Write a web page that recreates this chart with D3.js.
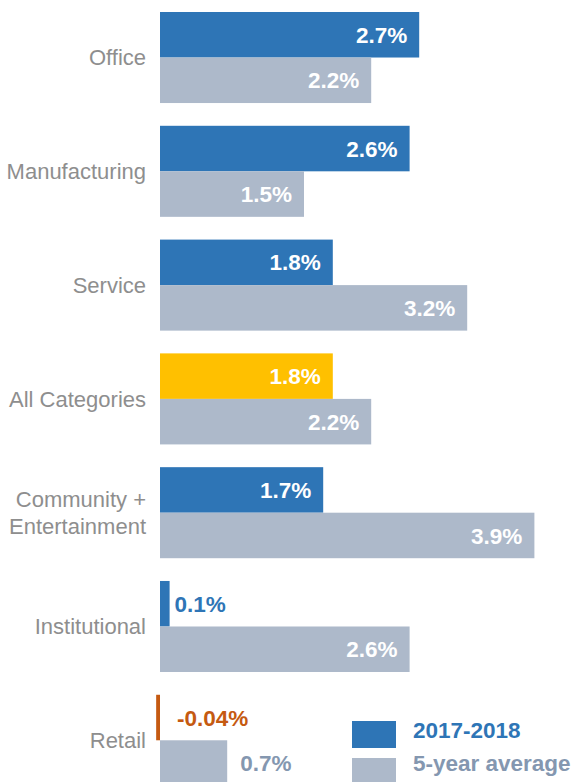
<!DOCTYPE html>
<html>
<head>
<meta charset="utf-8">
<script src="https://cdn.jsdelivr.net/npm/d3@7"></script>
<style>
  html, body { margin: 0; padding: 0; background: #fff; }
  svg { display: block; font-family: "Liberation Sans", Arial, sans-serif; }
</style>
</head>
<body>
<svg id="chart" width="575" height="782"></svg>
<script>
// Annual growth by building category, percent
const categories = ["Office", "Manufacturing", "Service", "All Categories", "Community + Entertainment", "Institutional", "Retail"];
const categoryLines = [["Office"], ["Manufacturing"], ["Service"], ["All Categories"], ["Community +", "Entertainment"], ["Institutional"], ["Retail"]];
const current = [2.7, 2.6, 1.8, 1.8, 1.7, 0.1, -0.04];     // 2017-2018
const fiveYear = [2.2, 1.5, 3.2, 2.2, 3.9, 2.6, 0.7];       // 5-year average
const seriesNames = ["2017-2018", "5-year average"];

const BLUE = "#2E75B6", GREY = "#ADB9CA", GOLD = "#FFC000", ORANGE = "#C55A11", GREY_TEXT = "#8497B0";

const svg = d3.select("#chart");

const x = d3.scaleLinear().domain([0, 4]).range([160, 544]);

const y = d3.scaleBand()
  .domain(categories)
  .range([12, 785.8])
  .paddingInner(0.2)
  .paddingOuter(0);

const sub = d3.scaleBand()
  .domain([0, 1])
  .range([0, y.bandwidth()]);

const rows = categories.map((c, i) => ({ cat: c, i, vals: [current[i], fiveYear[i]] }));

function fillFor(cat, s, v) {
  if (s === 1) return GREY;
  if (v < 0) return ORANGE;
  if (cat === "All Categories") return GOLD;
  return BLUE;
}

const groups = svg.selectAll("g.row")
  .data(rows)
  .join("g")
  .attr("class", "row")
  .attr("transform", d => `translate(0,${y(d.cat)})`);

const bars = groups.selectAll("g.bar")
  .data(d => d.vals.map((v, s) => ({ cat: d.cat, v, s })))
  .join("g")
  .attr("class", "bar");

bars.append("rect")
  .attr("x", d => Math.min(x(0), x(d.v)))
  .attr("y", d => sub(d.s))
  .attr("width", d => Math.abs(x(d.v) - x(0)))
  .attr("height", sub.bandwidth())
  .attr("fill", d => fillFor(d.cat, d.s, d.v));

// Value labels: inside (white) when the bar is long enough, otherwise after the bar
bars.append("text")
  .attr("font-size", 22.5)
  .attr("font-weight", "bold")
  .attr("y", d => sub(d.s) + sub.bandwidth() / 2)
  .attr("dy", "0.36em")
  .each(function (d) {
    const label = (d.v < 0 ? "-" : "") + (Math.abs(d.v) < 0.1 ? Math.abs(d.v).toFixed(2) : Math.abs(d.v).toFixed(1)) + "%";
    const w = Math.abs(x(d.v) - x(0));
    const t = d3.select(this).text(label);
    if (w > 90) {
      t.attr("x", x(d.v) - 12).attr("text-anchor", "end").attr("fill", "#fff");
    } else {
      const pad = d.v < 0 ? 17 : (d.s === 0 ? 5 : 13);
      t.attr("x", x(Math.max(d.v, 0)) + pad).attr("text-anchor", "start")
        .attr("fill", d.s === 1 ? GREY_TEXT : (d.v < 0 ? ORANGE : BLUE));
    }
  });

// Category labels
groups.append("text")
  .attr("text-anchor", "end")
  .attr("font-size", 22)
  .attr("fill", "#8E8E8E")
  .attr("x", 146)
  .each(function (d) {
    const lines = categoryLines[d.i];
    const t = d3.select(this);
    const mid = y.bandwidth() / 2;
    lines.forEach((ln, k) => {
      t.append("tspan")
        .attr("x", 146)
        .attr("y", mid + (k - (lines.length - 1) / 2) * 27)
        .attr("dy", "0.35em")
        .text(ln);
    });
  });

// Legend
const legend = svg.append("g").attr("transform", "translate(352,721)");
const legendItems = legend.selectAll("g")
  .data(seriesNames)
  .join("g");
legendItems.append("rect")
  .attr("y", (d, i) => i * 37)
  .attr("width", 44).attr("height", 27)
  .attr("fill", (d, i) => i === 0 ? BLUE : GREY);
legendItems.append("text")
  .attr("x", 61).attr("y", (d, i) => 17 + i * 33)
  .attr("font-size", 22.5).attr("font-weight", "bold")
  .attr("fill", (d, i) => i === 0 ? BLUE : GREY_TEXT)
  .text(d => d);
</script>
</body>
</html>
